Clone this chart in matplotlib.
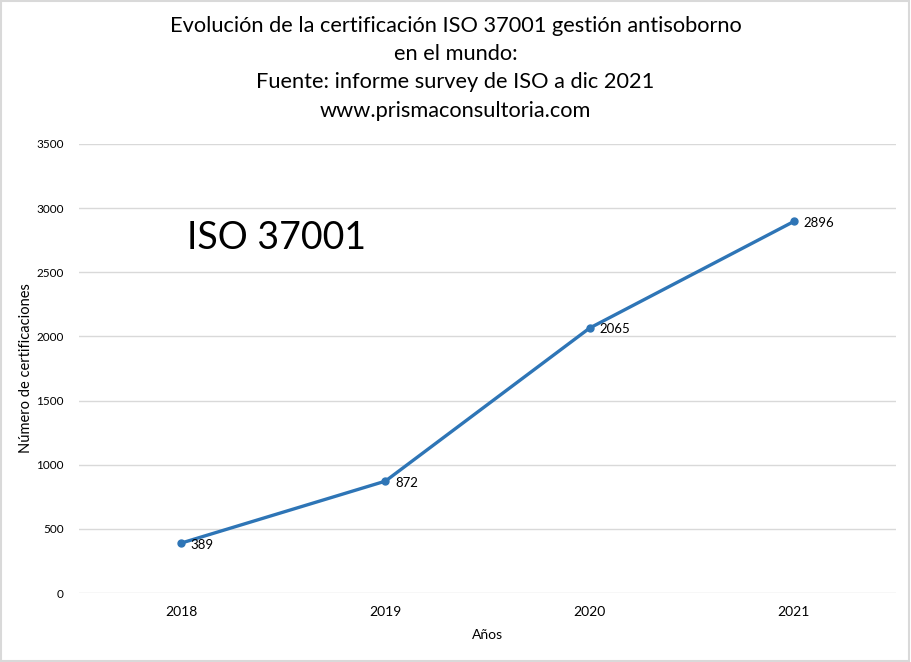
import matplotlib.pyplot as plt
from matplotlib.patches import Rectangle

years = ["2018", "2019", "2020", "2021"]
certs = [389, 872, 2065, 2896]
yticks = [0, 500, 1000, 1500, 2000, 2500, 3000, 3500]

plt.rcParams['font.family'] = ['Lato', 'DejaVu Sans']

fig = plt.figure(figsize=(9.11, 6.62), dpi=100)
ax = fig.add_axes([0.0867, 0.1042, 0.8968, 0.6783])

xs = range(len(years))
ax.plot(xs, certs, color='#2E75B6', lw=2.4, marker='o', ms=5, zorder=3)
for x, v in zip(xs, certs):
    ax.annotate(str(v), (x, v), xytext=(7, -1), textcoords='offset points',
                fontsize=9.5, va='center', ha='left')

ax.set_xlim(-0.5, len(years) - 0.5)
ax.set_ylim(0, 3500)
ax.set_xticks(list(xs))
ax.set_xticklabels(years, fontsize=10)
ax.set_yticks(yticks)
ax.set_yticklabels([str(t) for t in yticks], fontsize=8.5)
ax.tick_params(length=0, pad=11)
ax.tick_params(axis='x', pad=9)
ax.grid(axis='y', color='#D9D9D9', lw=1)
ax.set_axisbelow(True)
for s in ax.spines.values():
    s.set_visible(False)

ax.set_xlabel("Años", fontsize=10, labelpad=8)
ax.set_ylabel("Número de certificaciones", fontsize=10.5)
ax.yaxis.set_label_coords(-0.056, 0.5)

ax.text(0.132, 0.79, "ISO 37001", transform=ax.transAxes, fontsize=27, va='center', ha='left')

fig.text(0.5, 0.897,
         "Evolución de la certificación ISO 37001 gestión antisoborno\nen el mundo:\n"
         "Fuente: informe survey de ISO a dic 2021\nwww.prismaconsultoria.com",
         ha='center', va='center', fontsize=15.7, linespacing=1.52)

fig.patches.append(Rectangle((0.001, 0.001), 0.997, 0.997, transform=fig.transFigure,
                             fill=False, edgecolor='#D9D9D9', lw=1.5))

fig.savefig("out.png", dpi=100, facecolor='white')
